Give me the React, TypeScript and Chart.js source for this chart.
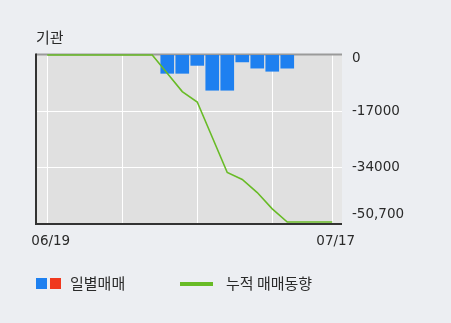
import { useEffect, useRef } from "react";
import { Chart, registerables } from "chart.js";

Chart.register(...registerables);

// Trading days shown on the x axis (only the first and last are labelled)
const categories = [
  "06/19", "06/21", "06/24", "06/25", "06/26", "06/27", "06/28", "07/01",
  "07/02", "07/03", "07/04", "07/05", "07/08", "07/09", "07/10", "07/11",
  "07/12", "07/15", "07/16", "07/17",
];

// Daily net trading by institutions (no bar on days without data)
const dailyNet: (number | null)[] = [
  null, null, null, null, null, null, null, null,
  -5560, -5560, -3150, -10700, -10700, -2100, -3990, -4940,
  -4000, null, null, null,
];

// Cumulative net trading
const cumulativeNet: number[] = [
  0, 0, 0, 0, 0, 0, 0, 0,
  -5560, -11120, -14270, -24970, -35670, -37770, -41760, -46700,
  -50700, -50700, -50700, -50700,
];

const yTickValues = [0, -17000, -34000, -50700];
const yTickLabels = ["0", "-17000", "-34000", "-50,700"];
const yGridValues = [-17000, -34000];
const xGridIndices = [0, 5, 10, 15, 19];
const xLabelIndices = [0, 19];

const titleText = "기관";
const legendDaily = "일별매매";
const legendCumulative = "누적 매매동향";

const KR_FONT = '"Noto Sans CJK KR", "Noto Sans", sans-serif';
const NUM_FONT = '"DejaVu Sans", "Noto Sans", sans-serif';

const PAGE_BG = "#eceef2";
const PLOT_BG = "#e0e0e0";
const PLOT_EDGE_BG = "#e6e6e6";
const BLUE = "#1e80f0";
const RED = "#f0381e";
const GREEN = "#68bb26";
const TEXT = "#2a2a2a";

export default function App() {
  const canvasRef = useRef<HTMLCanvasElement>(null);

  useEffect(() => {
    const canvas = canvasRef.current;
    if (!canvas) return;

    const framePlugin = {
      id: "frame",
      beforeDraw(chart: any) {
        const { ctx, chartArea: a, scales } = chart;
        const x = scales.x;
        ctx.save();
        ctx.fillStyle = PAGE_BG;
        ctx.fillRect(0, 0, chart.width, chart.height);
        ctx.fillStyle = PLOT_EDGE_BG;
        ctx.fillRect(a.left, a.top, a.right - a.left, a.bottom - a.top);
        const x0 = x.getPixelForValue(xGridIndices[0]);
        const x1 = x.getPixelForValue(xGridIndices[xGridIndices.length - 1]);
        ctx.fillStyle = PLOT_BG;
        ctx.fillRect(x0, a.top, x1 - x0, a.bottom - a.top);
        ctx.restore();
      },
      beforeDatasetsDraw(chart: any) {
        const { ctx, chartArea: a } = chart;
        ctx.save();
        // top edge
        ctx.fillStyle = "#9a9a9a";
        ctx.fillRect(a.left, a.top - 1.5, a.right - a.left, 2);
        // left and bottom edges
        ctx.fillStyle = "#333333";
        ctx.fillRect(a.left - 1, a.top - 1.5, 2, a.bottom - a.top + 3.5);
        ctx.fillRect(a.left - 1, a.bottom, a.right - a.left + 1, 2);
        ctx.restore();
      },
      afterDraw(chart: any) {
        const { ctx, chartArea: a, scales } = chart;
        const x = scales.x;
        const y = scales.y;
        ctx.save();
        ctx.fillStyle = TEXT;

        // title
        ctx.font = `15px ${KR_FONT}`;
        ctx.textAlign = "left";
        ctx.textBaseline = "middle";
        ctx.fillText(titleText, a.left, 37);

        // right-hand value labels, kept inside the plot's height
        ctx.font = `13.5px ${NUM_FONT}`;
        yTickValues.forEach((v, i) => {
          const py = Math.min(Math.max(y.getPixelForValue(v), a.top + 3), a.bottom - 9);
          ctx.fillText(yTickLabels[i], a.right + 10, py);
        });

        // date labels
        ctx.textAlign = "center";
        xLabelIndices.forEach((idx) => {
          ctx.fillText(categories[idx], x.getPixelForValue(idx) + 3.5, a.bottom + 18);
        });

        // legend
        const ly = 284;
        ctx.fillStyle = BLUE;
        ctx.fillRect(36, ly - 6, 11, 11);
        ctx.fillStyle = RED;
        ctx.fillRect(50, ly - 6, 11, 11);
        ctx.fillStyle = TEXT;
        ctx.font = `15px ${KR_FONT}`;
        ctx.textAlign = "left";
        ctx.fillText(legendDaily, 70, ly - 1);
        ctx.fillStyle = GREEN;
        ctx.fillRect(180, ly - 2, 33, 4);
        ctx.fillStyle = TEXT;
        ctx.fillText(legendCumulative, 226, ly - 1);
        ctx.restore();
      },
    };

    const chart = new Chart(canvas, {
      type: "bar",
      data: {
        datasets: [
          {
            type: "line",
            label: legendCumulative,
            data: cumulativeNet.map((v, i) => ({ x: i, y: v })),
            borderColor: GREEN,
            borderWidth: 1.6,
            pointRadius: 0,
            tension: 0,
            fill: false,
            clip: false,
            order: 0,
          },
          {
            type: "bar",
            label: legendDaily,
            data: dailyNet.map((v, i) => ({ x: i, y: v })),
            backgroundColor: dailyNet.map((v) => (v !== null && v > 0 ? RED : BLUE)),
            barThickness: 13,
            borderWidth: 0,
            order: 1,
          },
        ],
      } as any,
      options: {
        responsive: false,
        animation: false,
        devicePixelRatio: 1,
        layout: { padding: { left: 36, right: 109, top: 55, bottom: 100 } },
        plugins: { legend: { display: false }, tooltip: { enabled: false } },
        scales: {
          x: {
            type: "linear",
            min: -0.75,
            max: 19.65,
            offset: false,
            afterBuildTicks: (scale: any) => {
              scale.ticks = xGridIndices.map((v) => ({ value: v }));
            },
            grid: { color: "#ffffff", lineWidth: 1, drawTicks: false, offset: false },
            border: { display: false },
            ticks: { display: false },
          },
          y: {
            type: "linear",
            position: "right",
            min: -51000,
            max: 0,
            afterBuildTicks: (scale: any) => {
              scale.ticks = yGridValues.map((v) => ({ value: v }));
            },
            grid: { color: "#ffffff", lineWidth: 1, drawTicks: false },
            border: { display: false },
            ticks: { display: false },
          },
        },
      } as any,
      plugins: [framePlugin],
    });

    return () => chart.destroy();
  }, []);

  return (
    <div style={{ position: "fixed", left: 0, top: 0, width: 451, height: 323 }}>
      <canvas ref={canvasRef} width={451} height={323} style={{ display: "block" }} />
    </div>
  );
}
